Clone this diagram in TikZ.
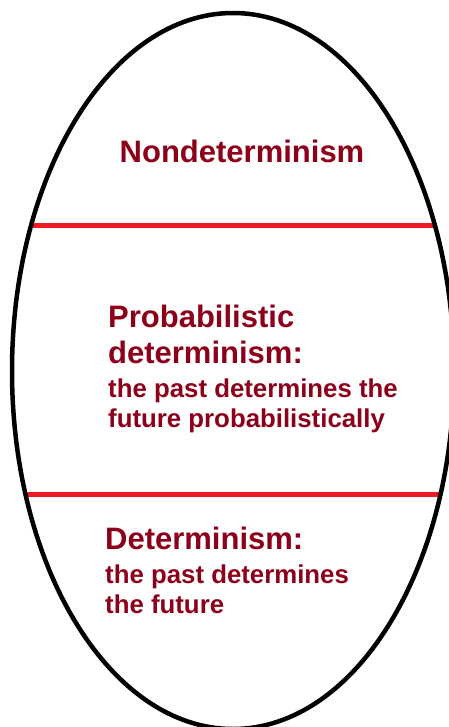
\documentclass[tikz,border=0pt]{standalone}
\usepackage{fontspec}
\setmainfont{Liberation Sans}
\definecolor{txtred}{RGB}{140,0,26}
\definecolor{linered}{RGB}{237,28,36}
\begin{document}
\begin{tikzpicture}[x=1pt,y=-1pt,
  bigtxt/.style={inner sep=0pt, text=txtred, font=\fontsize{31}{36}\selectfont\bfseries},
  smalltxt/.style={inner sep=0pt, text=txtred, font=\fontsize{25.8}{31}\selectfont\bfseries},
  divider/.style={draw=linered, line width=5pt},
  outline/.style={draw=black, line width=4.5pt}]
\useasboundingbox (0,0) rectangle (449,727);
\coordinate (c) at (233,371);
\begin{scope}
  \clip (c) ellipse [x radius=221pt, y radius=358pt];
  \coordinate (l1a) at (0,225);
  \coordinate (l1b) at (449,225);
  \coordinate (l2a) at (0,494);
  \coordinate (l2b) at (449,494);
  \draw[divider] (l1a) -- (l1b);
  \draw[divider] (l2a) -- (l2b);
\end{scope}
\draw[outline] (c) ellipse [x radius=221pt, y radius=358pt];
\node[bigtxt, anchor=base] (nd) at (242,163) {Nondeterminism};
\node[bigtxt, anchor=base west] (pd1) at (108,327) {Probabilistic};
\node[bigtxt, anchor=base west] (pd2) at (108,363) {determinism:};
\node[smalltxt, anchor=base west] (pd3) at (108,397) {the past determines the};
\node[smalltxt, anchor=base west] (pd4) at (108,427) {future probabilistically};
\node[bigtxt, anchor=base west] (d1) at (105,549) {Determinism:};
\node[smalltxt, anchor=base west] (d2) at (105,583) {the past determines};
\node[smalltxt, anchor=base west] (d3) at (105,613) {the future};
\end{tikzpicture}
\end{document}
